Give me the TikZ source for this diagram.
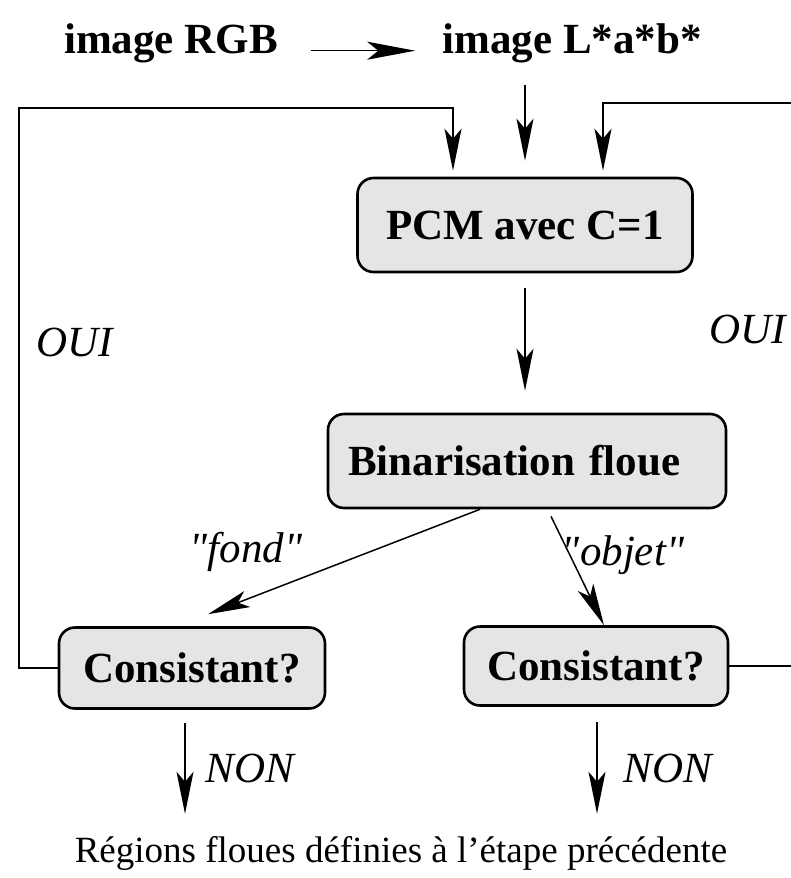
\documentclass[tikz,border=0pt]{standalone}
\usepackage{fontspec}
\setmainfont{Liberation Serif}
\usetikzlibrary{positioning,arrows.meta}
\definecolor{boxgray}{RGB}{229,229,229}

\begin{document}
\begin{tikzpicture}[x=1pt, y=-1pt,
      arr/.style={-{Stealth[length=42pt,width=17pt,inset=10pt]}, line width=1.5pt},
      stepbox/.style={draw, line width=2.6pt, rounded corners=16pt, fill=boxgray,
        font=\fontsize{43}{50}\selectfont\bfseries},
      title/.style={inner sep=0pt, font=\fontsize{43}{50}\selectfont\bfseries},
      lbl/.style={inner sep=0pt, font=\fontsize{43}{50}\selectfont\itshape}]
    \useasboundingbox (0,0) rectangle (790,878);
    % entree
    \node (rgb) [title, anchor=base] at (171,53) {image RGB};
    \node (lab) [title, anchor=base] at (572,53) {image L*a*b*};
    % etapes
    \node (pcm) [stepbox, minimum width=335pt, minimum height=94pt] at (525,225) {PCM avec C=1};
    \node (bin) [stepbox, text width=358pt, inner xsep=20pt, align=left,
      minimum height=94pt] at (527,461) {Binarisation floue};
    \node (lcons) [stepbox, minimum width=266pt, minimum height=81pt] at (192,668) {Consistant?};
    \node (rcons) [stepbox, minimum width=264pt, minimum height=79pt] at (596,666) {Consistant?};
    \node (regions) [inner sep=0pt, anchor=base, font=\fontsize{37}{44}\selectfont]
      at (401,862) {Régions floues définies à l’étape précédente};
    \coordinate (lcorner) at (19,108);
    \coordinate (rcorner) at (800,103);
    % fleches
    \draw[arr, -{Stealth[length=48pt,width=18pt,inset=11pt]}, shorten <=33pt, shorten >=27pt]
      (rgb.mid east) -- (lab.mid west);
    \draw[arr, shorten <=22pt, shorten >=16pt] (pcm |- lab.south) -- (pcm.north);
    \draw[arr, shorten <=15pt, shorten >=22pt] (pcm.south) -- (pcm.south |- bin.north);
    \draw[arr] ([xshift=-47pt]bin.south) -- ([xshift=16pt, yshift=12pt]lcons.north);
    \draw[arr] ([xshift=24pt, yshift=-7pt]bin.south) -- ([xshift=8pt]rcons.north);
    \draw[arr, shorten <=13pt, shorten >=22pt] ([xshift=-7pt]lcons.south) -- ([xshift=-7pt]lcons.south |- regions.north);
    \draw[arr, shorten <=15pt, shorten >=22pt] ([xshift=1pt]rcons.south) -- ([xshift=1pt]rcons.south |- regions.north);
    % boucles
    \draw[arr, shorten >=6pt] (lcons.west) -| (lcorner) -| ([xshift=-72pt]pcm.north);
    \draw[arr, shorten >=6pt] (rcons.east) -| (rcorner) -| ([xshift=78pt]pcm.north);
    % etiquettes
    \node (fond) [lbl, anchor=base] at (246,562) {\textquotedbl fond\textquotedbl};
    \node (objet) [lbl, anchor=base] at (623,565) {\textquotedbl objet\textquotedbl};
    \node (ouil) [lbl, anchor=base] at (75,356) {OUI};
    \node (ouir) [lbl, anchor=base] at (748,343) {OUI};
    \node (nonl) [lbl, anchor=base] at (250,782) {NON};
    \node (nonr) [lbl, anchor=base] at (668,782) {NON};
\end{tikzpicture}
\end{document}
